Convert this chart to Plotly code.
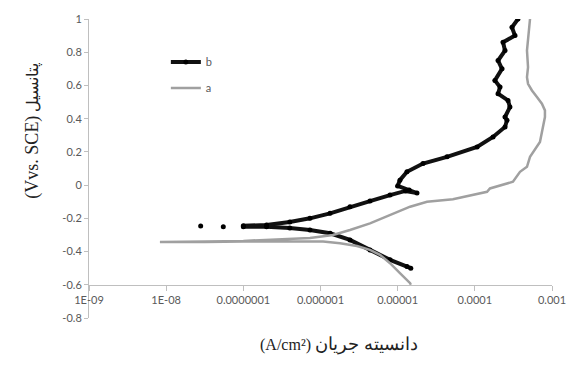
import plotly.graph_objects as go

# ---- data ----
# series b (black): current density (A/cm2) and potential (V vs SCE); None = gap
b_current = [1.48e-5, 1.32e-5, 7.96e-6, 4.38e-6, 2.41e-6, 1.33e-6, 7.3e-7, 4.0e-7, 2.0e-7, 1.0e-7,
             None, 5.5e-8, None, 2.8e-8, None,
             1.0e-7, 2.0e-7, 4.0e-7, 7.3e-7, 1.33e-6, 2.41e-6, 4.38e-6, 7.96e-6, 1.26e-5,
             1.78e-5, 1.41e-5, 1.0e-5, 1.07e-5, 1.32e-5, 2.13e-5, 4.36e-5, 1.07e-4, 1.72e-4,
             2.46e-4, 2.61e-4, 2.46e-4, 2.85e-4, 2.69e-4, 2.0e-4, 2.12e-4, 1.82e-4, 2.25e-4,
             2.0e-4, 2.46e-4, 2.32e-4, 3.31e-4, 3.03e-4, 3.62e-4]
b_potential = [-0.50, -0.49, -0.45, -0.39, -0.33, -0.29, -0.27, -0.258, -0.25, -0.25,
               None, -0.25, None, -0.246, None,
               -0.245, -0.24, -0.222, -0.20, -0.17, -0.13, -0.096, -0.06, -0.035,
               -0.048, -0.03, -0.005, 0.03, 0.08, 0.13, 0.17, 0.23, 0.29,
               0.35, 0.39, 0.41, 0.47, 0.51, 0.55, 0.59, 0.63, 0.70,
               0.75, 0.81, 0.86, 0.90, 0.95, 1.0]

# series a (grey)
a_current = [1.48e-5, 1.45e-5, 1.07e-5, 7.96e-6, 5.9e-6, 4.38e-6, 2.97e-6, 1.79e-6, 1.08e-6,
             3.2e-7, 1.0e-7, 3.2e-8, 8.3e-9,
             3.2e-8, 1.0e-7, 3.2e-7, 7.3e-7, 1.45e-6, 2.41e-6, 4.38e-6, 7.96e-6, 1.45e-5,
             2.4e-5, 5.2e-5, 1.44e-4, 1.57e-4, 3.12e-4, 3.85e-4, 4.74e-4, 5.19e-4, 6.98e-4,
             7.64e-4, 8.1e-4, 8.1e-4, 7.4e-4, 6.38e-4, 5.5e-4, 4.89e-4, 4.74e-4, 4.89e-4,
             4.74e-4, 5.19e-4]
a_potential = [-0.60, -0.59, -0.53, -0.47, -0.42, -0.39, -0.367, -0.35, -0.34,
               -0.338, -0.34, -0.342, -0.343,
               -0.34, -0.336, -0.328, -0.318, -0.30, -0.27, -0.23, -0.18, -0.13,
               -0.10, -0.085, -0.04, -0.02, 0.02, 0.08, 0.11, 0.17, 0.26,
               0.35, 0.41, 0.45, 0.49, 0.53, 0.57, 0.61, 0.65, 0.71,
               0.81, 1.0]

x_tickvals = [1e-9, 1e-8, 1e-7, 1e-6, 1e-5, 1e-4, 1e-3]
x_ticktext = ["1E-09", "1E-08", "0.0000001", "0.000001", "0.00001", "0.0001", "0.001"]
y_tickvals = [1, 0.8, 0.6, 0.4, 0.2, 0, -0.2, -0.4, -0.6, -0.8]
y_ticktext = ["1", "0.8", "0.6", "0.4", "0.2", "0", "-0.2", "-0.4", "-0.6", "-0.8"]

x_title = ("<span style='font-size:16px'>(A/cm²)</span> "
           "<span style='font-size:18px'>دانسیته جریان</span>")
y_title = ("<span style='font-size:18px'>(Vvs. SCE)</span> "
           "<span style='font-size:16px'>پتانسیل</span>")

# ---- figure ----
fig = go.Figure()
fig.add_trace(go.Scatter(x=b_current, y=b_potential, name="b", mode="lines+markers",
                         line=dict(color="#111111", width=4),
                         marker=dict(color="#000000", size=5, symbol="circle"),
                         connectgaps=False, legendgroup="b"))
fig.add_trace(go.Scatter(x=a_current, y=a_potential, name="a", mode="lines",
                         line=dict(color="#A0A0A0", width=2.5), legendgroup="a"))

tick_font = dict(family="Lato, 'Open Sans', sans-serif", size=11, color="#595959")
axis_col = "#BFBFBF"
title_font = dict(family="'Liberation Serif', 'DejaVu Serif', serif", size=16, color="#222222")

fig.update_layout(
    width=570, height=373,
    margin=dict(l=89, r=18, t=19, b=55),
    paper_bgcolor="white", plot_bgcolor="white",
    showlegend=True,
    legend=dict(x=0.166, y=0.905, xanchor="left", yanchor="top",
                font=tick_font, tracegroupgap=7, bgcolor="rgba(0,0,0,0)",
                itemwidth=30),
    xaxis=dict(type="log", range=[-9, -3], anchor="free", position=0.2 / 1.8,
               tickvals=x_tickvals, ticktext=x_ticktext, tickfont=tick_font,
               showline=True, linecolor=axis_col, linewidth=1,
               ticks="outside", ticklen=5, tickcolor=axis_col,
               showgrid=False, zeroline=False, automargin=False),
    yaxis=dict(range=[-0.8, 1], tickvals=y_tickvals, ticktext=y_ticktext,
               tickfont=tick_font, showline=True, linecolor=axis_col, linewidth=1,
               ticks="outside", ticklen=4, tickcolor=axis_col,
               showgrid=False, zeroline=False, automargin=False),
    annotations=[
        dict(text=y_title, xref="paper", yref="paper", x=-0.149, y=0.625,
             textangle=-90, showarrow=False, font=title_font),
        dict(text=x_title, xref="paper", yref="paper", x=0.54, y=-0.13,
             showarrow=False, font=title_font),
    ],
)

fig.write_html("out.html", config={"displayModeBar": False},
               post_script="document.body.style.margin='0';document.body.style.padding='0';")
